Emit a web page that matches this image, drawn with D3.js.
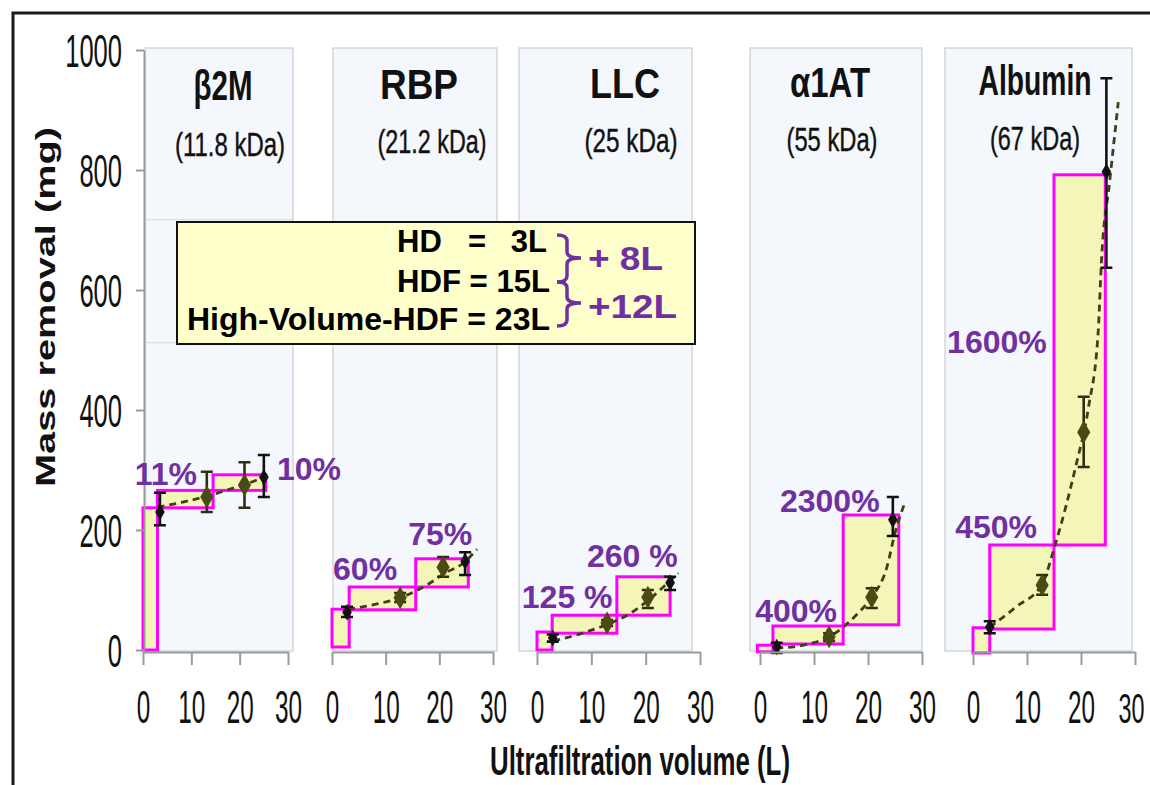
<!DOCTYPE html>
<html>
<head>
<meta charset="utf-8">
<script src="https://cdn.jsdelivr.net/npm/d3@7"></script>
<style>
  body { margin: 0; background: #fff; }
</style>
</head>
<body>
<div class="container"></div>
<script>
// mass removal per protein vs ultrafiltration volume

var W = 1150, H = 785;
var NARROW = "'Liberation Sans Narrow','Arial Narrow',sans-serif";
var SANS = "'Liberation Sans',Arial,sans-serif";
var PURPLE = "#7030a0";
var OLIVE = "#4a4a14";

// ---- data ----
var proteins = ["β2M", "RBP", "LLC", "α1AT", "Albumin"];
var weights = ["(11.8 kDa)", "(21.2 kDa)", "(25 kDa)", "(55 kDa)", "(67 kDa)"];
var yTicks = [0, 200, 400, 600, 800, 1000];
var xTicks = [0, 10, 20, 30];

// highlighted areas per panel: [x0, x1, yLow, yHigh]
var boxes = [
  [[0, 3, 0, 237], [3, 14.5, 237, 266], [14.5, 25.4, 266, 292]],
  [[0, 3.2, 5, 68], [3.2, 15.6, 67, 105], [15.6, 25.4, 105, 152]],
  [[0, 2.8, 0, 30], [2.8, 14.7, 28, 58], [14.7, 24.5, 58, 122]],
  [[-0.5, 2.4, -3, 8], [2.4, 15.4, 10, 40], [15.4, 25.7, 42, 225]],
  [[0, 3.1, -5, 37], [3.1, 15, 35, 175], [15, 24.5, 175, 792]]
];

// measured points per panel: [volume, mass, errLow, errHigh]
var points = [
  [[3.5, 230, 208, 262], [13.2, 255, 230, 297], [21, 275, 237, 313], [25, 288, 255, 325]],
  [[2.8, 63, 55, 72], [12.7, 87, 80, 95], [20.7, 138, 122, 155], [24.8, 148, 125, 163]],
  [[2.9, 20, 14, 26], [12.9, 45, 40, 50], [20.4, 88, 70, 100], [24.5, 112, 100, 122]],
  [[3.1, 5, -5, 12], [12.8, 22, 15, 28], [20.7, 88, 70, 103], [24.6, 217, 190, 255]],
  [[3.1, 38, 28, 48], [12.8, 108, 92, 125], [20.5, 363, 305, 422], [24.7, 797, 637, 953]]
];

// dashed trend lines per panel: [volume, mass]
var trend = [
  [[3, 238], [8, 246], [13, 256], [18, 268], [21, 276], [26, 290]],
  [[3, 68], [8, 76], [13, 88], [18, 110], [21, 128], [24.5, 145], [27, 168]],
  [[3, 15], [8, 27], [13, 43], [17, 60], [20.5, 83], [23, 103], [26, 128]],
  [[3, 3], [9, 10], [12.8, 22], [15.4, 38], [18, 60], [20.7, 88], [23.5, 138], [25, 195], [26.8, 245]],
  [[3.1, 38], [8, 72], [12.8, 110], [15.3, 178], [19, 305], [21.4, 405], [23.2, 533], [23.8, 650], [25.3, 780], [26.9, 913]]
];

// percent increase labels: [panel, text, volume, mass]
var pctLabels = [
  [0, "11%", -1.7, 275], [0, "10%", 27.7, 283],
  [1, "60%", 0.2, 117], [1, "75%", 14.2, 175],
  [2, "125 %", -2.8, 70], [2, "260 %", 9.2, 138],
  [3, "2300%", 3.7, 230], [3, "400%", -0.9, 47],
  [4, "1600%", -4.8, 495], [4, "450%", -3.3, 187]
];

var modeNames = ["HD", "HDF", "High-Volume-HDF"];
var modeVolumes = ["3L", "15L", "23L"];
var steps = ["+ 8L", "+12L"];

// ---- layout ----
var panels = [
  { x0: 143, x1: 288, bg: [145, 293], tx: 223, tw: 59, sx: 230, sw: 110, tb: 100, sb: 156 },
  { x0: 332, x1: 493, bg: [333, 497], tx: 419, tw: 78, sx: 432, sw: 109, tb: 99, sb: 153 },
  { x0: 537, x1: 700, bg: [519, 692], tx: 625, tw: 70, sx: 631, sw: 93, tb: 98, sb: 152 },
  { x0: 760, x1: 922, bg: [750, 922], tx: 830, tw: 80, sx: 832, sw: 91, tb: 97, sb: 151 },
  { x0: 973, x1: 1135, bg: [945, 1132], tx: 1035, tw: 113, sx: 1035, sw: 90, tb: 95, sb: 150 }
];

var svg = d3.select(".container").append("svg")
  .attr("width", W).attr("height", H);

var y = d3.scaleLinear().domain([0, 1000]).range([650, 50]);

// outer frame (only top and left edges are visible)
svg.append("path")
  .attr("d", "M13," + H + "V13H" + W)
  .attr("fill", "none").attr("stroke", "#1a1a1a").attr("stroke-width", 3);

var xScales = [];

panels.forEach(function(p, i) {
  var x = d3.scaleLinear().domain([0, 30]).range([p.x0, p.x1]);
  xScales.push(x);
  var g = svg.append("g");

  g.append("rect")
    .attr("x", p.bg[0]).attr("y", 48)
    .attr("width", p.bg[1] - p.bg[0]).attr("height", 603)
    .attr("fill", "#f4f7fb").attr("stroke", "#c9cdd2").attr("stroke-width", 1.2);

  if (i === 0) {
    // faint seams visible in the first panel
    [717, 512].forEach(function(v) {
      g.append("line")
        .attr("x1", p.bg[0]).attr("x2", p.bg[1])
        .attr("y1", y(v)).attr("y2", y(v))
        .attr("stroke", "#d3d7dc").attr("stroke-width", 1);
    });
  }

  g.append("text")
    .attr("x", p.tx).attr("y", p.tb)
    .attr("text-anchor", "middle")
    .attr("font-family", NARROW).attr("font-weight", "bold").attr("font-size", 42)
    .attr("textLength", p.tw).attr("lengthAdjust", "spacingAndGlyphs")
    .attr("fill", "#111")
    .text(proteins[i]);

  g.append("text")
    .attr("x", p.sx).attr("y", p.sb)
    .attr("text-anchor", "middle")
    .attr("font-family", NARROW).attr("font-size", 33)
    .attr("textLength", p.sw).attr("lengthAdjust", "spacingAndGlyphs")
    .attr("fill", "#111").attr("stroke", "#111").attr("stroke-width", 0.4)
    .text(weights[i]);

  g.selectAll("rect.box").data(boxes[i]).enter().append("rect")
    .attr("class", "box")
    .attr("x", function(d) { return x(d[0]); })
    .attr("width", function(d) { return x(d[1]) - x(d[0]); })
    .attr("y", function(d) { return y(d[3]); })
    .attr("height", function(d) { return y(d[2]) - y(d[3]); })
    .attr("fill", "#f3f6b6").attr("stroke", "#ff00ff").attr("stroke-width", 3);

  var line = d3.line()
    .x(function(d) { return x(d[0]); })
    .y(function(d) { return y(d[1]); })
    .curve(d3.curveMonotoneX);

  g.append("path").datum(trend[i])
    .attr("d", line)
    .attr("fill", "none").attr("stroke", "#3f3f18")
    .attr("stroke-width", 2.8).attr("stroke-dasharray", "7,5");

  var pt = g.selectAll("g.pt").data(points[i]).enter().append("g").attr("class", "pt");
  pt.append("path")
    .attr("d", function(d) {
      var cx = x(d[0]), lo = y(d[2]), hi = y(d[3]);
      return "M" + cx + "," + lo + "V" + hi +
        "M" + (cx - 6) + "," + lo + "H" + (cx + 6) +
        "M" + (cx - 6) + "," + hi + "H" + (cx + 6);
    })
    .attr("fill", "none")
    .attr("stroke", function(d, j) { return (j === 0 || j === 3) ? "#111" : "#2e2e10"; })
    .attr("stroke-width", 2.6);
  pt.append("path")
    .attr("transform", function(d) { return "translate(" + x(d[0]) + "," + y(d[1]) + ")"; })
    .attr("d", function(d, j) {
      return d3.symbol().type(d3.symbolDiamond).size((j === 0 || j === 3) ? 80 : 150)();
    })
    .attr("fill", function(d, j) { return (j === 0 || j === 3) ? "#111" : OLIVE; });

  var ax = g.append("g")
    .attr("transform", "translate(0," + 652 + ")")
    .call(d3.axisBottom(x).tickValues(xTicks).tickSize(13).tickSizeOuter(0).tickFormat(d3.format("d")));
  ax.select(".domain").attr("stroke", "#9a9a9a").attr("stroke-width", 2);
  ax.selectAll(".tick line").attr("stroke", "#9a9a9a").attr("stroke-width", 2);
  // tall condensed digits: small font stretched vertically
  var last = i === panels.length - 1;
  ax.selectAll(".tick text")
    .attr("y", 0).attr("dy", 0)
    .attr("transform", function(d) {
      var dx = (last && d === 30) ? -4 : 0;
      return "translate(" + dx + ",71) scale(1,1.53)";
    })
    .attr("font-family", NARROW).attr("font-size", function(d) { return (last && d === 30) ? 28 : 30; })
    .attr("fill", "#111")
    .attr("textLength", function(d) { return String(d).length * ((last && d === 30) ? 13 : 13.5); })
    .attr("lengthAdjust", "spacingAndGlyphs");
});

// y axis
var yax = svg.append("g")
  .attr("transform", "translate(144,0)")
  .call(d3.axisLeft(y).tickValues(yTicks).tickSize(8).tickSizeOuter(0).tickFormat(d3.format("d")));
yax.select(".domain").attr("stroke", "#9a9a9a").attr("stroke-width", 2);
yax.selectAll(".tick line").attr("stroke", "#9a9a9a").attr("stroke-width", 2);
yax.selectAll(".tick text")
  .attr("x", 0).attr("dy", "0.35em")
  .attr("transform", "translate(-22,0) scale(1,1.5)")
  .attr("font-family", NARROW).attr("font-size", 31).attr("fill", "#111")
  .attr("textLength", function(d) { return String(d).length * 14.2; })
  .attr("lengthAdjust", "spacingAndGlyphs");

// axis titles
svg.append("text")
  .attr("transform", "translate(55,307) rotate(-90)")
  .attr("text-anchor", "middle")
  .attr("font-family", SANS).attr("font-weight", "bold").attr("font-size", 28)
  .attr("textLength", 360).attr("lengthAdjust", "spacingAndGlyphs")
  .attr("fill", "#111")
  .text("Mass removal (mg)");

svg.append("text")
  .attr("x", 640).attr("y", 775)
  .attr("text-anchor", "middle")
  .attr("font-family", NARROW).attr("font-weight", "bold").attr("font-size", 40)
  .attr("textLength", 300).attr("lengthAdjust", "spacingAndGlyphs")
  .attr("fill", "#111")
  .text("Ultrafiltration volume (L)");

// percent labels
svg.selectAll("text.pct").data(pctLabels).enter().append("text")
  .attr("class", "pct")
  .attr("x", function(d) { return xScales[d[0]](d[2]); })
  .attr("y", function(d) { return y(d[3]); })
  .attr("font-family", SANS).attr("font-weight", "bold").attr("font-size", 32)
  .attr("fill", PURPLE)
  .text(function(d) { return d[1]; });

// legend box
var lg = svg.append("g");
lg.append("rect")
  .attr("x", 177).attr("y", 222).attr("width", 518).attr("height", 122)
  .attr("fill", "#ffffcc").attr("stroke", "#111").attr("stroke-width", 2);

var lineY = [252, 292, 330];
function legText(x, yy, anchor, s, len) {
  var t = lg.append("text")
    .attr("x", x).attr("y", yy).attr("text-anchor", anchor)
    .attr("font-family", SANS).attr("font-weight", "bold").attr("font-size", 31)
    .attr("fill", "#000").text(s);
  if (len) t.attr("textLength", len).attr("lengthAdjust", "spacingAndGlyphs");
  return t;
}
legText(397, lineY[0], "start", modeNames[0]);
legText(477, lineY[0], "middle", "=");
legText(547, lineY[0], "end", modeVolumes[0]);
legText(550, lineY[1], "end", modeNames[1] + " = " + modeVolumes[1], 153);
legText(550, lineY[2], "end", modeNames[2] + " = " + modeVolumes[2], 363);

function brace(x, y0, y1, ym) {
  var mx = x + 10, tip = x + 24, r = 6;
  return "M" + x + "," + y0 +
    "Q" + mx + "," + y0 + " " + mx + "," + (y0 + r) +
    "V" + (ym - r) +
    "Q" + mx + "," + ym + " " + tip + "," + ym +
    "Q" + mx + "," + ym + " " + mx + "," + (ym + r) +
    "V" + (y1 - r) +
    "Q" + mx + "," + y1 + " " + x + "," + y1;
}
lg.append("path").attr("d", brace(557, 235, 282, 258))
  .attr("fill", "none").attr("stroke", PURPLE).attr("stroke-width", 3.5);
lg.append("path").attr("d", brace(557, 282, 326, 303))
  .attr("fill", "none").attr("stroke", PURPLE).attr("stroke-width", 3.5);

lg.append("text").attr("x", 588).attr("y", 270)
  .attr("font-family", SANS).attr("font-weight", "bold").attr("font-size", 33)
  .attr("textLength", 75).attr("lengthAdjust", "spacingAndGlyphs")
  .attr("fill", PURPLE).text(steps[0]);
lg.append("text").attr("x", 588).attr("y", 318)
  .attr("font-family", SANS).attr("font-weight", "bold").attr("font-size", 33)
  .attr("textLength", 89).attr("lengthAdjust", "spacingAndGlyphs")
  .attr("fill", PURPLE).text(steps[1]);
</script>
</body>
</html>
